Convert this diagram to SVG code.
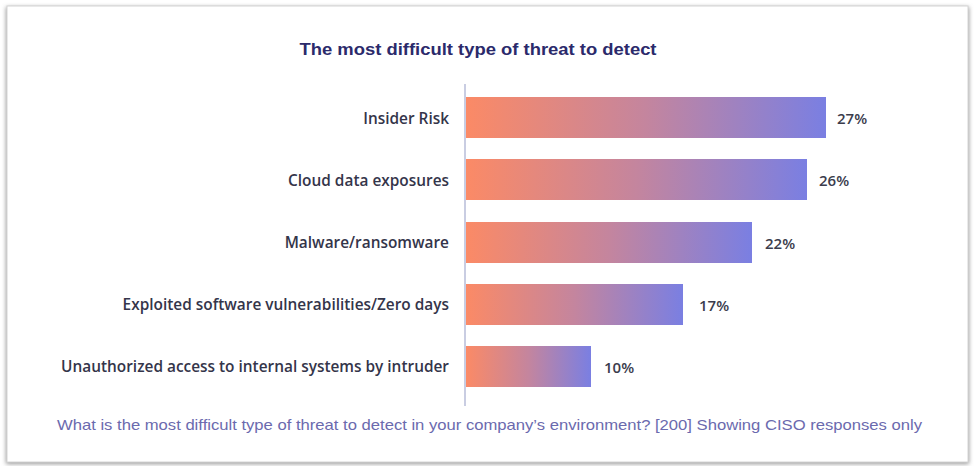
<svg xmlns="http://www.w3.org/2000/svg" width="974" height="466" viewBox="0 0 974 466">
<defs>
<linearGradient id="bar" x1="0" y1="0" x2="1" y2="0">
<stop offset="0" stop-color="#fb8a66"/>
<stop offset="0.5" stop-color="#c4859e"/>
<stop offset="1" stop-color="#7a7fe2"/>
</linearGradient>
<filter id="sh" x="-2%" y="-2%" width="104%" height="106%">
<feGaussianBlur stdDeviation="2"/>
</filter>
</defs>
<style>
.lbl{font-family:"Open Sans","Liberation Sans",Arial,sans-serif;font-size:15.4px;font-weight:600;fill:#34354a;text-anchor:end;dominant-baseline:central;}
.val{font-family:"Open Sans","Liberation Sans",Arial,sans-serif;font-size:15px;font-weight:600;fill:#3b3c4c;dominant-baseline:central;}
.bar{fill:url(#bar);}
</style>
<rect width="974" height="466" fill="#ffffff"/>
<rect x="6" y="7" width="963" height="457" fill="#9a9a9a" filter="url(#sh)"/>
<rect x="7" y="6" width="961" height="456" fill="#ffffff" stroke="#d4d4d4" stroke-width="1"/>
<text x="478" y="49" font-family="Liberation Sans,Arial,sans-serif" font-size="16" font-weight="bold" fill="#2b2a6b" text-anchor="middle" dominant-baseline="central" textLength="357" lengthAdjust="spacingAndGlyphs">The most difficult type of threat to detect</text>
<g id="connectors">
<line x1="465" y1="84" x2="465" y2="406" stroke="#c9cde2" stroke-width="2"/>
</g>
<g id="bar1"><rect class="bar" x="466" y="97" width="360" height="41"/><text class="lbl" x="449" y="118">Insider Risk</text><text class="val" x="837" y="118">27%</text></g>
<g id="bar2"><rect class="bar" x="466" y="159" width="341" height="41"/><text class="lbl" x="449" y="180">Cloud data exposures</text><text class="val" x="819" y="180">26%</text></g>
<g id="bar3"><rect class="bar" x="466" y="222" width="286" height="41"/><text class="lbl" x="449" y="242">Malware/ransomware</text><text class="val" x="765" y="243">22%</text></g>
<g id="bar4"><rect class="bar" x="466" y="284" width="217" height="41"/><text class="lbl" x="449" y="304">Exploited software vulnerabilities/Zero days</text><text class="val" x="699" y="305">17%</text></g>
<g id="bar5"><rect class="bar" x="466" y="346" width="125" height="41"/><text class="lbl" x="449" y="366">Unauthorized access to internal systems by intruder</text><text class="val" x="604" y="367">10%</text></g>
<text x="57" y="425" font-family="Liberation Sans,Arial,sans-serif" font-size="14.5" fill="#6b6aae" dominant-baseline="central" textLength="865" lengthAdjust="spacingAndGlyphs">What is the most difficult type of threat to detect in your company’s environment? [200] Showing CISO responses only</text>
</svg>
